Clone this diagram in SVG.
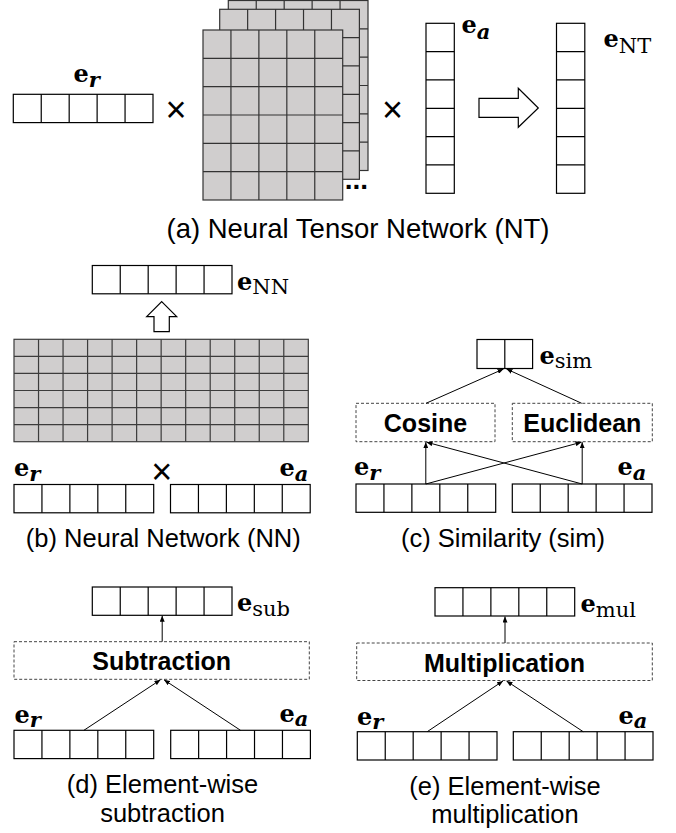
<svg xmlns="http://www.w3.org/2000/svg" xmlns:xlink="http://www.w3.org/1999/xlink" width="676" height="833" viewBox="0 0 676 833">
<style>
.cap{font-family:"Liberation Sans",Arial,sans-serif;font-size:25.5px;fill:#000;text-anchor:middle}
.capa{font-size:27.5px}
.op{font-family:"Liberation Sans",Arial,sans-serif;font-size:25px;font-weight:bold;fill:#000;text-anchor:middle}
.times{font-family:"Liberation Sans",Arial,sans-serif;font-size:36px;fill:#000;text-anchor:middle}
.e{font-family:"DejaVu Serif",serif;font-weight:bold;font-size:24px;fill:#000}
.s{font-family:"DejaVu Serif",serif;font-weight:normal;font-size:21px}
.si{font-family:"DejaVu Serif",serif;font-weight:bold;font-style:italic;font-size:21px}
.dash{fill:none;stroke:#444;stroke-width:1;stroke-dasharray:3 2}
.conn{fill:none;stroke:#000;stroke-width:1;marker-end:url(#ah)}
.hollow{fill:#fff;stroke:#000;stroke-width:1.2}
.grid{fill:#d0cece;stroke:#3c3c3c;stroke-width:1.2}
</style>
<defs>
<marker id="ah" markerUnits="userSpaceOnUse" markerWidth="6" markerHeight="5" refX="6" refY="2.5" orient="auto">
<path d="M0,0 L6,2.5 L0,5 z" fill="#000"/>
</marker>
<g id="v5" fill="#fff" stroke="#000" stroke-width="1.2">
<rect x="0" y="0" width="139.7" height="28.3"/>
<path d="M27.94,0V28.3M55.88,0V28.3M83.82,0V28.3M111.76,0V28.3"/>
</g>
<g id="v6" fill="#fff" stroke="#000" stroke-width="1.2">
<rect x="0" y="0" width="28.3" height="170"/>
<path d="M0,28.33H28.3M0,56.67H28.3M0,85H28.3M0,113.33H28.3M0,141.67H28.3"/>
</g>
<g id="v2" fill="#fff" stroke="#000" stroke-width="1.2">
<rect x="0" y="0" width="55.6" height="29"/>
<path d="M27.8,0V29"/>
</g>
<g id="mat" fill="#d0cece" stroke="#333" stroke-width="1.2">
<rect x="0" y="0" width="139.7" height="170"/>
<path d="M27.94,0V170M55.88,0V170M83.82,0V170M111.76,0V170M0,28.33H139.7M0,56.67H139.7M0,85H139.7M0,113.33H139.7M0,141.67H139.7"/>
</g>
</defs>
<rect width="676" height="833" fill="#fff"/>

<!-- (a) Neural Tensor Network -->
<g id="a-er">
<use xlink:href="#v5" x="13.3" y="94.3"/>
<text class="e" x="73.5" y="82.3">e<tspan class="si" dy="5">r</tspan></text>
</g>
<text class="times" x="176" y="122">×</text>
<g id="a-tensor">
<use xlink:href="#mat" x="228.3" y="0.5"/>
<use xlink:href="#mat" x="219.7" y="9.3"/>
<use xlink:href="#mat" x="203" y="30"/>
<text x="344.8" y="188.5" font-family="Liberation Sans,Arial,sans-serif" font-weight="bold" font-size="28">...</text>
</g>
<text class="times" x="392.5" y="122">×</text>
<g id="a-ea">
<use xlink:href="#v6" x="426" y="23.3"/>
<text class="e" x="461.5" y="33.3">e<tspan class="si" dy="5.5">a</tspan></text>
</g>
<g id="a-arrow">
<polygon class="hollow" points="479,98.3 518.3,98.3 518.3,88.3 538.3,108 518.3,127.3 518.3,117.3 479,117.3"/>
</g>
<g id="a-ent">
<use xlink:href="#v6" x="556.5" y="23.3"/>
<text class="e" x="603.5" y="46.7">e<tspan class="s" dy="6">NT</tspan></text>
</g>
<text class="cap capa" x="358" y="237.5">(a) Neural Tensor Network (NT)</text>

<!-- (b) Neural Network -->
<g id="b-enn">
<use xlink:href="#v5" x="92.3" y="265.5"/>
<text class="e" x="237" y="289.5">e<tspan class="s" dy="4.5">NN</tspan></text>
</g>
<g id="b-arrow">
<polygon class="hollow" points="161.7,301.7 176.7,316.7 169.3,316.7 169.3,331.7 154,331.7 154,316.7 146.7,316.7"/>
</g>
<g id="b-grid">
<rect class="grid" x="14" y="339.3" width="294.3" height="102.4"/>
<path fill="none" stroke="#3c3c3c" stroke-width="1.2" d="M14,356.37H308.3M14,373.43H308.3M14,390.5H308.3M14,407.57H308.3M14,424.63H308.3M38.53,339.3V441.7M63.05,339.3V441.7M87.58,339.3V441.7M112.1,339.3V441.7M136.63,339.3V441.7M161.15,339.3V441.7M185.68,339.3V441.7M210.2,339.3V441.7M234.73,339.3V441.7M259.25,339.3V441.7M283.78,339.3V441.7"/>
</g>
<g id="b-er">
<use xlink:href="#v5" x="14" y="484.5"/>
<text class="e" x="14" y="476">e<tspan class="si" dy="4.5">r</tspan></text>
</g>
<text class="times" x="161.7" y="484">×</text>
<g id="b-ea">
<use xlink:href="#v5" x="170.5" y="484.5"/>
<text class="e" x="279.5" y="476">e<tspan class="si" dy="4.5">a</tspan></text>
</g>
<text class="cap" x="163.3" y="547">(b) Neural Network (NN)</text>

<!-- (c) Similarity -->
<g id="c-esim">
<use xlink:href="#v2" x="477" y="339.5"/>
<text class="e" x="539.5" y="364">e<tspan class="s" dy="4">sim</tspan></text>
</g>
<g id="c-cos">
<rect class="dash" x="356" y="403.3" width="139" height="38.4"/>
<text class="op" x="425.5" y="431.5">Cosine</text>
</g>
<g id="c-euc">
<rect class="dash" x="512.3" y="403.3" width="140" height="38.4"/>
<text class="op" x="582.3" y="431.5">Euclidean</text>
</g>
<g id="c-er">
<use xlink:href="#v5" x="356" y="484"/>
<text class="e" x="354" y="475">e<tspan class="si" dy="4.5">r</tspan></text>
</g>
<g id="c-ea">
<use xlink:href="#v5" x="512.3" y="484"/>
<text class="e" x="617.5" y="475">e<tspan class="si" dy="4.5">a</tspan></text>
</g>
<text class="cap" x="503" y="547">(c) Similarity (sim)</text>

<!-- (d) Subtraction -->
<g id="d-esub">
<use xlink:href="#v5" x="92.3" y="587"/>
<text class="e" x="237" y="610.7">e<tspan class="s" dy="5">sub</tspan></text>
</g>
<g id="d-op">
<rect class="dash" x="14" y="641.7" width="295.3" height="37.6"/>
<text class="op" x="161.7" y="670">Subtraction</text>
</g>
<g id="d-er">
<use xlink:href="#v5" x="14" y="730.3"/>
<text class="e" x="14.5" y="723.3">e<tspan class="si" dy="4">r</tspan></text>
</g>
<g id="d-ea">
<use xlink:href="#v5" x="170.7" y="730.3"/>
<text class="e" x="279.5" y="722">e<tspan class="si" dy="4">a</tspan></text>
</g>
<text class="cap" x="162.5" y="793.3">(d) Element-wise</text>
<text class="cap" x="162.5" y="821.7">subtraction</text>

<!-- (e) Multiplication -->
<g id="e-emul">
<use xlink:href="#v5" x="435" y="587.7"/>
<text class="e" x="580.5" y="611.5">e<tspan class="s" dy="5">mul</tspan></text>
</g>
<g id="e-op">
<rect class="dash" x="356.7" y="643" width="295.6" height="37.5"/>
<text class="op" x="504.5" y="671.5">Multiplication</text>
</g>
<g id="e-er">
<use xlink:href="#v5" x="357.3" y="731.7"/>
<text class="e" x="357" y="725">e<tspan class="si" dy="4">r</tspan></text>
</g>
<g id="e-ea">
<use xlink:href="#v5" x="513.3" y="731.7"/>
<text class="e" x="618.5" y="724">e<tspan class="si" dy="4">a</tspan></text>
</g>
<text class="cap" x="505" y="794.5">(e) Element-wise</text>
<text class="cap" x="505" y="823">multiplication</text>

<g id="connectors">
<path class="conn" d="M426,403.3L503.5,369"/>
<path class="conn" d="M581.7,403.3L506.5,369"/>
<path class="conn" d="M425.8,484L425.8,442.2"/>
<path class="conn" d="M425.8,484L581.5,442.2"/>
<path class="conn" d="M582.2,484L582.2,442.2"/>
<path class="conn" d="M582.2,484L426.5,442.2"/>
<path class="conn" d="M162.2,641.7L162.2,615.8"/>
<path class="conn" d="M83.9,730.3L160.5,679.8"/>
<path class="conn" d="M240.5,730.3L164,679.8"/>
<path class="conn" d="M505,643L505,616.5"/>
<path class="conn" d="M427.2,731.7L503,681"/>
<path class="conn" d="M583.2,731.7L506.5,681"/>
</g>
</svg>
